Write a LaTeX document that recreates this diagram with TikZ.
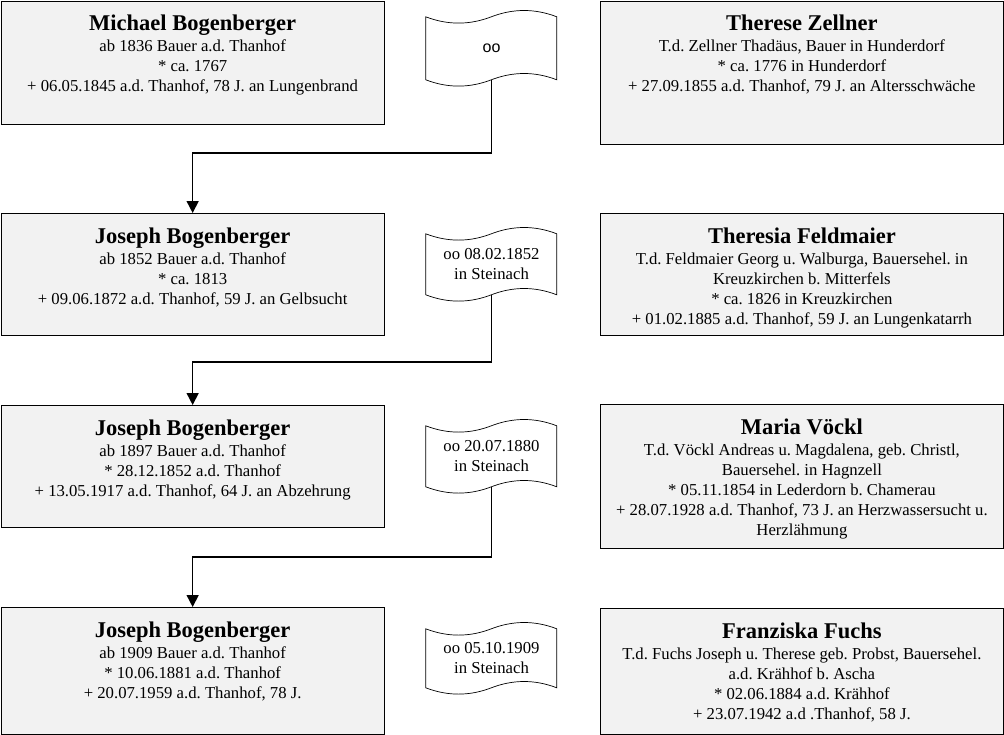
\documentclass[tikz,border=0pt]{standalone}
\usepackage{fontspec}
\setmainfont{Liberation Serif}
\newfontfamily\ooFont{Liberation Sans}
\usepackage{xcolor}
\usetikzlibrary{arrows.meta}
\frenchspacing

\definecolor{boxfill}{HTML}{F2F2F2}
\newcommand{\namefont}{\fontsize{22.5}{26}\selectfont\bfseries}
\newcommand{\persontext}[4]{\parbox[t][#2pt][t]{#1pt}{\centering\rule{0pt}{30pt}{\namefont #3}\\[1pt]#4}}
\newcommand{\bannerpath}[2]{%
  \draw[bannerline, shift={(#1.north west)}]
    (0,7) .. controls (21.8,15.4) and (43.7,15.4) .. (65.5,7)
    .. controls (87.3,-1.4) and (109.2,-1.4) .. (131,7)
    -- (131,#2-7)
    .. controls (109.2,#2-15.4) and (87.3,#2-15.4) .. (65.5,#2-7)
    .. controls (43.7,#2+1.4) and (21.8,#2+1.4) .. (0,#2-7) -- cycle;}

\begin{document}
\begin{tikzpicture}[x=1pt,y=-1pt,
    person/.style={draw, fill=boxfill, line width=0.8pt, inner sep=0pt, anchor=north west,
      font=\fontsize{16.7}{20}\selectfont},
    banner/.style={minimum width=131pt, inner sep=0pt, align=center,
      font=\fontsize{16.7}{20}\selectfont},
    bannerline/.style={line width=0.7pt},
    link/.style={line width=1.5pt, -{Triangle[length=12pt,width=12pt]}}]

    \useasboundingbox (0,0) rectangle (1004,734);

    \node[person] (l1) at (0.5,0.5) {\persontext{383.5}{123.5}{Michael Bogenberger}{ab 1836 Bauer a.d. Thanhof\\{*} ca. 1767\\+ 06.05.1845 a.d. Thanhof, 78 J. an Lungenbrand}};
    \node[person] (r1) at (600,0.5) {\persontext{403}{143}{Therese Zellner}{T.d. Zellner Thadäus, Bauer in Hunderdorf\\{*} ca. 1776 in Hunderdorf\\+ 27.09.1855 a.d. Thanhof, 79 J. an Altersschwäche}};
    \node[person] (l2) at (0.5,213) {\persontext{383.5}{122}{Joseph Bogenberger}{ab 1852 Bauer a.d. Thanhof\\{*} ca. 1813\\+ 09.06.1872 a.d. Thanhof, 59 J. an Gelbsucht}};
    \node[person] (r2) at (600,213) {\persontext{403}{122}{Theresia Feldmaier}{T.d. Feldmaier Georg u. Walburga, Bauersehel. in\\Kreuzkirchen b. Mitterfels\\{*} ca. 1826 in Kreuzkirchen\\+ 01.02.1885 a.d. Thanhof, 59 J. an Lungenkatarrh}};
    \node[person] (l3) at (0.5,405) {\persontext{383.5}{122}{Joseph Bogenberger}{ab 1897 Bauer a.d. Thanhof\\{*} 28.12.1852 a.d. Thanhof\\+ 13.05.1917 a.d. Thanhof, 64 J. an Abzehrung}};
    \node[person] (r3) at (600,404) {\persontext{403}{144}{Maria Vöckl}{T.d. Vöckl Andreas u. Magdalena, geb. Christl,\\Bauersehel. in Hagnzell\\{*} 05.11.1854 in Lederdorn b. Chamerau\\+ 28.07.1928 a.d. Thanhof, 73 J. an Herzwassersucht u.\\Herzlähmung}};
    \node[person] (l4) at (0.5,607) {\persontext{383.5}{126.5}{Joseph Bogenberger}{ab 1909 Bauer a.d. Thanhof\\{*} 10.06.1881 a.d. Thanhof\\+ 20.07.1959 a.d. Thanhof, 78 J.}};
    \node[person] (r4) at (600,608) {\persontext{403}{125.5}{Franziska Fuchs}{T.d. Fuchs Joseph u. Therese geb. Probst, Bauersehel.\\a.d. Krähhof b. Ascha\\{*} 02.06.1884 a.d. Krähhof\\+ 23.07.1942 a.d .Thanhof, 58 J.}};

    \node[banner, minimum height=77pt, font=\ooFont\fontsize{16}{20}\selectfont] (b1) at (491.5,48.5) {oo};
    \node[banner, minimum height=75pt] (b2) at (491.5,264.5) {oo 08.02.1852\\in Steinach};
    \node[banner, minimum height=75pt] (b3) at (491.5,456.5) {oo 20.07.1880\\in Steinach};
    \node[banner, minimum height=73pt] (b4) at (491.5,658.5) {oo 05.10.1909\\in Steinach};

    \bannerpath{b1}{77}
    \bannerpath{b2}{75}
    \bannerpath{b3}{75}
    \bannerpath{b4}{73}

    \draw[link] ([yshift=7pt]b1.south) -- ++(0,73) -| (l2.north);
    \draw[link] ([yshift=7pt]b2.south) -- ++(0,67) -| (l3.north);
    \draw[link] ([yshift=7pt]b3.south) -- ++(0,70) -| (l4.north);
\end{tikzpicture}
\end{document}
